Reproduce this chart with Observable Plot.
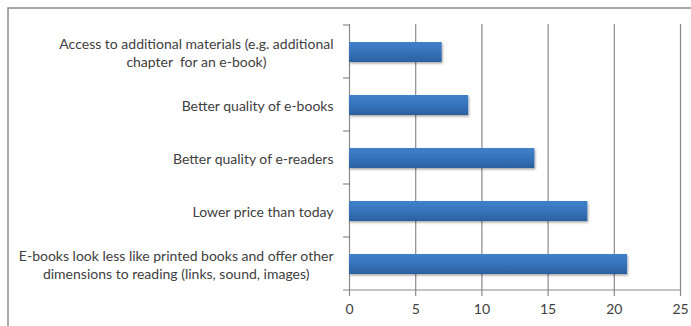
<!DOCTYPE html>
<html><head><meta charset="utf-8">
<script src="https://cdn.jsdelivr.net/npm/d3@7"></script>
<script src="https://cdn.jsdelivr.net/npm/@observablehq/plot@0.6"></script>
<style>body{margin:0;background:#fff} svg{display:block}</style>
</head><body><div id="chart"></div>
<script>
const categories = [
  "Access to additional materials (e.g. additional\nchapter  for an e-book)",
  "Better quality of e-books",
  "Better quality of e-readers",
  "Lower price than today",
  "E-books look less like printed books and offer other\ndimensions to reading (links, sound, images)"
];
const values = [7, 9, 14, 18, 21];
const xTicks = [0, 5, 10, 15, 20, 25];

const data = categories.map((c, i) => ({category: c, value: values[i]}));
const gridColor = "#8a8a8a";
const textColor = "#404040";

const defs = () => {
  const d = d3.create("svg:defs");
  const g = d.append("linearGradient").attr("id", "barGrad").attr("x1", 0).attr("y1", 0).attr("x2", 0).attr("y2", 1);
  g.append("stop").attr("offset", "0%").attr("stop-color", "#3f82ca");
  g.append("stop").attr("offset", "50%").attr("stop-color", "#3673bb");
  g.append("stop").attr("offset", "100%").attr("stop-color", "#2b609f");
  const f = d.append("filter").attr("id", "barShadow").attr("x", "-5%").attr("y", "-20%").attr("width", "115%").attr("height", "160%");
  f.append("feDropShadow").attr("dx", 1).attr("dy", 1.5).attr("stdDeviation", 1).attr("flood-color", "#000").attr("flood-opacity", 0.35);
  return d.node();
};

const plot = Plot.plot({
  width: 691, height: 326,
  marginLeft: 349, marginRight: 11, marginTop: 24, marginBottom: 35,
  style: {fontFamily: "Lato, sans-serif", fontSize: "14px", color: textColor, background: "#fff", overflow: "visible"},
  x: {domain: [0, 25], label: null},
  y: {domain: categories, padding: 0, label: null},
  marks: [
    defs,
    Plot.gridX(xTicks.slice(1), {stroke: gridColor, strokeOpacity: 1, strokeWidth: 1.2}),
    Plot.ruleX([0], {stroke: gridColor, strokeWidth: 1.2}),
    Plot.barX(data, {y: "category", x: "value", fill: "url(#barGrad)", insetTop: 17, insetBottom: 16}),
    Plot.axisX({ticks: xTicks, tickSize: 5, tickPadding: 8, stroke: gridColor, strokeWidth: 1.2, fill: textColor, label: null}),
    Plot.axisY({tickSize: 0, tickPadding: 16, lineHeight: 1.3, fill: textColor, label: null})
  ]
});

document.getElementById("chart").appendChild(plot);

const svg = d3.select(plot);
const xs = plot.scale("x");
const ys = plot.scale("y");
const x0 = xs.apply(0), x1 = xs.apply(xTicks[xTicks.length - 1]);
const edges = categories.map(c => ys.apply(c));
edges.push(ys.apply(categories[categories.length - 1]) + ys.bandwidth);
const extra = svg.append("g").attr("stroke", gridColor).attr("stroke-width", 1.2);
edges.forEach((e, i) => {
  extra.append("line").attr("x1", x0 - 6).attr("x2", i === edges.length - 1 ? x1 : x0).attr("y1", e).attr("y2", e);
});
svg.selectAll("rect").filter(function() { return this.getAttribute("fill") === "url(#barGrad)" || (this.parentNode && this.parentNode.getAttribute("fill") === "url(#barGrad)"); }).attr("filter", "url(#barShadow)");
// centre multi-line labels (as the original does)
svg.selectAll('g[aria-label="y-axis tick label"] text').each(function() {
  const spans = Array.from(this.querySelectorAll("tspan"));
  if (spans.length < 2) return;
  const widths = spans.map(s => s.getComputedTextLength());
  const w = Math.max(...widths);
  spans.forEach((s, i) => s.setAttribute("x", -(w - widths[i]) / 2));
});
const border = svg.append("g").attr("stroke", "#8c8c8c").attr("stroke-width", 1.5).attr("fill", "none");
border.append("path").attr("d", "M8,326V8H691");
</script>
</body></html>
